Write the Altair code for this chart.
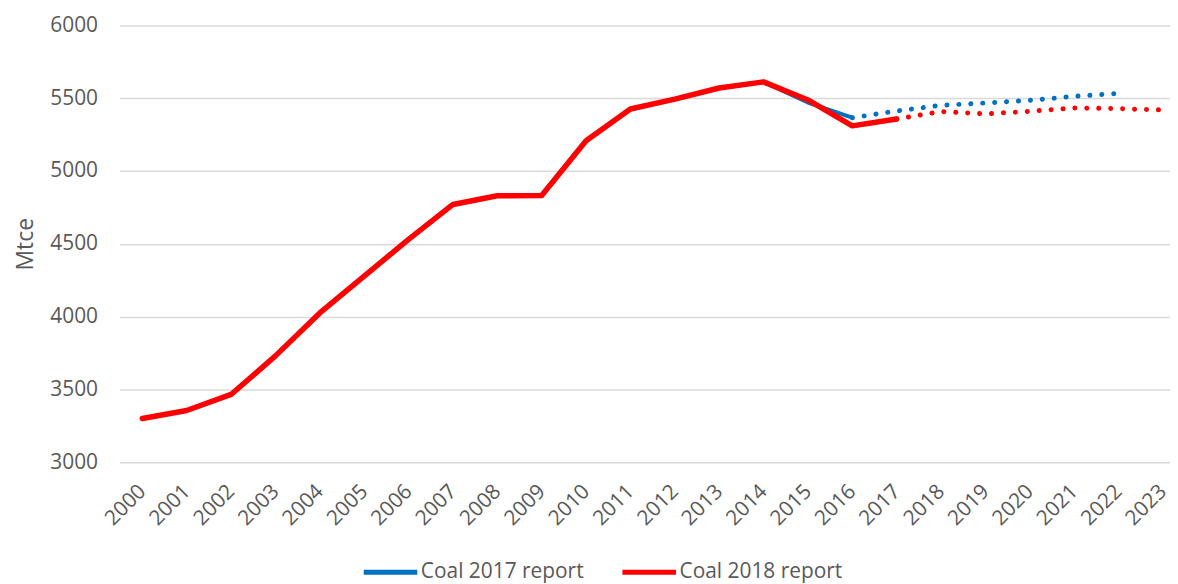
import altair as alt
import pandas as pd

years = list(range(2000, 2024))

# Coal 2018 report (actual through 2017, forecast 2017-2023)
red_hist_years = list(range(2000, 2018))
red_hist = [3300, 3355, 3465, 3730, 4025, 4278, 4530, 4770, 4830, 4832,
            5207, 5426, 5494, 5570, 5612, 5488, 5310, 5357]
red_fc_years = list(range(2017, 2024))
red_fc = [5357, 5408, 5392, 5410, 5433, 5428, 5419]

# Coal 2017 report (actual through 2016, forecast 2016-2022)
blue_hist_years = list(range(2000, 2017))
blue_hist = [3300, 3355, 3465, 3730, 4025, 4278, 4530, 4770, 4830, 4832,
             5207, 5426, 5494, 5570, 5612, 5470, 5366]
blue_fc_years = list(range(2016, 2023))
blue_fc = [5366, 5412, 5451, 5467, 5485, 5513, 5533]

S17 = "Coal 2017 report"
S18 = "Coal 2018 report"

def frame(yrs, vals, series):
    return pd.DataFrame({"year": yrs, "value": vals, "series": series})

FONT = "Open Sans"
GREY = "#595959"

color = alt.Color("series:N",
                  scale=alt.Scale(domain=[S17, S18], range=["#0070C0", "#FF0000"]),
                  legend=alt.Legend(title=None, orient="none", direction="horizontal",
                                    legendX=243, legendY=520,
                                    symbolType="stroke", symbolStrokeWidth=5,
                                    symbolSize=2900, labelFontSize=21,
                                    labelFont=FONT, labelColor=GREY,
                                    columnPadding=28, symbolOffset=0,
                                    labelOffset=1, labelLimit=400))

x = alt.X("year:Q",
          scale=alt.Scale(domain=[1999.484, 2023.16], nice=False, zero=False),
          axis=alt.Axis(title=None, values=years, format="d", labelAngle=-45,
                        labelAlign="right", labelBaseline="middle",
                        labelFontSize=21, labelFont=FONT, labelOverlap=False,
                        labelColor=GREY, ticks=False, domain=False, grid=False,
                        labelPadding=26, labelFlush=False))
y = alt.Y("value:Q", scale=alt.Scale(domain=[3000, 6000], nice=False, zero=False),
          axis=alt.Axis(title="Mtce", values=[3000, 3500, 4000, 4500, 5000, 5500, 6000],
                        format="d",
                        labelFontSize=21, labelFont=FONT, labelColor=GREY,
                        titleFontSize=23, titleFont=FONT, titleColor=GREY,
                        titleFontWeight="normal", titlePadding=12,
                        ticks=False, domain=False, grid=True, gridColor="#D9D9D9",
                        gridWidth=1.5, labelPadding=22))

blue_solid = alt.Chart(frame(blue_hist_years, blue_hist, S17)).mark_line(
    strokeWidth=4, strokeCap="round", strokeJoin="round").encode(x=x, y=y, color=color)
blue_dot = alt.Chart(frame(blue_fc_years, blue_fc, S17)).mark_line(
    strokeWidth=5, strokeCap="round", strokeDash=[0.1, 11.9]).encode(x=x, y=y, color=color)
red_solid = alt.Chart(frame(red_hist_years, red_hist, S18)).mark_line(
    strokeWidth=5.5, strokeCap="round", strokeJoin="round").encode(x=x, y=y, color=color)
red_dot = alt.Chart(frame(red_fc_years, red_fc, S18)).mark_line(
    strokeWidth=5, strokeCap="round", strokeDash=[0.1, 11.9]).encode(x=x, y=y, color=color)

chart = alt.layer(blue_solid, blue_dot, red_solid, red_dot).properties(
    width=1056, height=439,
    autosize=alt.AutoSizeParams(type="none"),
    padding={"left": 112, "top": 16, "right": 0, "bottom": 120},
).configure_view(stroke=None)

chart.save("out.html", embed_options={"renderer": "svg", "actions": False})
